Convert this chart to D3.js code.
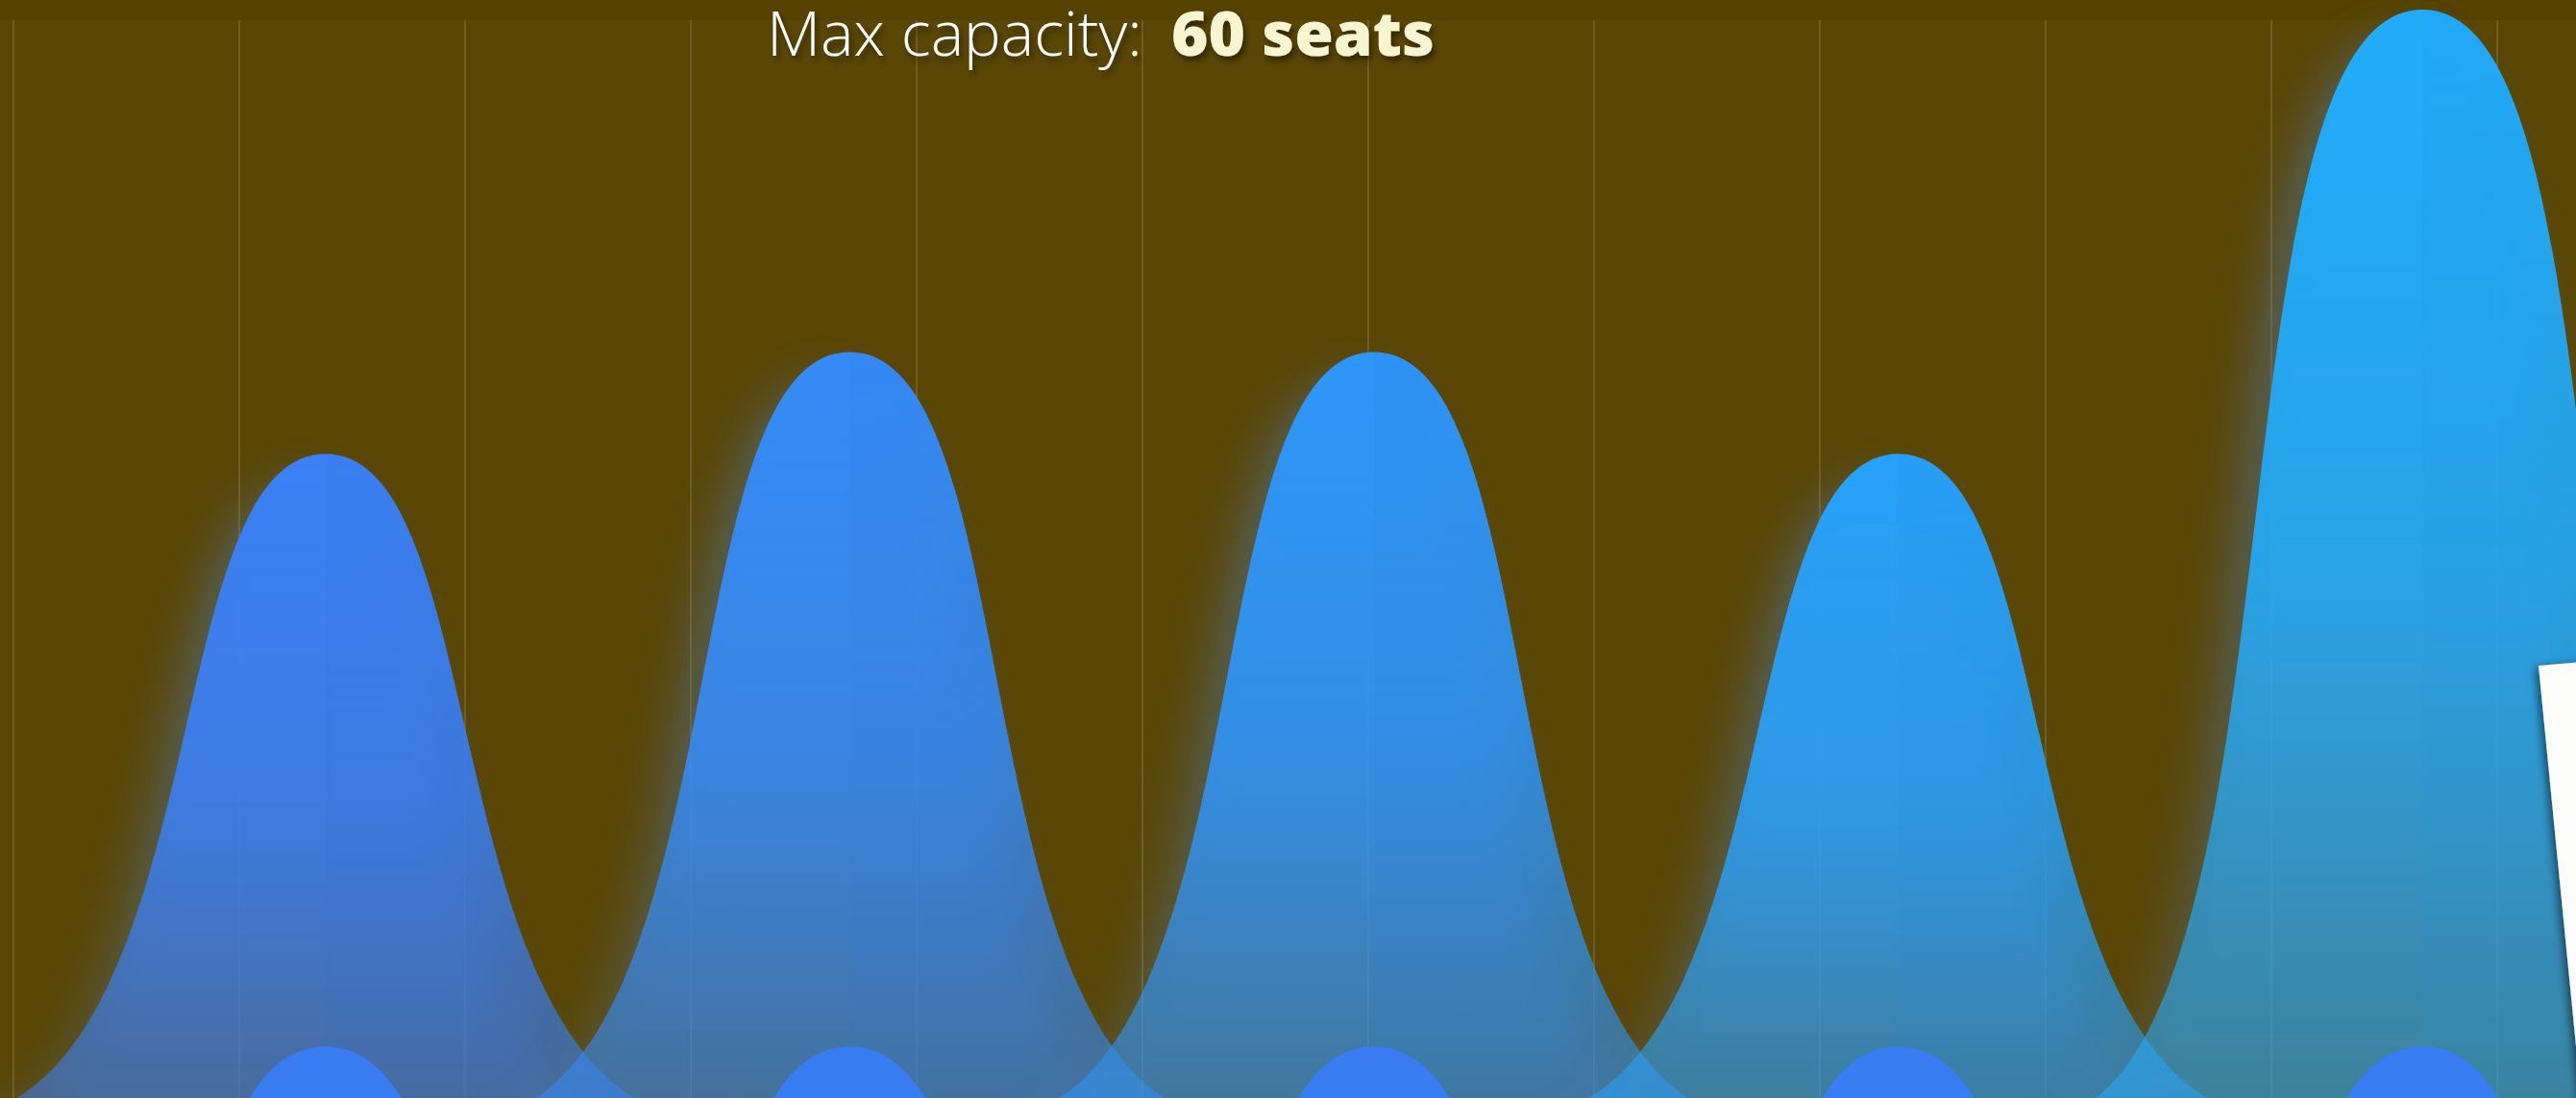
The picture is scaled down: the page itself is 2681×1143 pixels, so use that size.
<!DOCTYPE html>
<html>
<head>
<meta charset="utf-8">
<script src="https://cdn.jsdelivr.net/npm/d3@7"></script>
<style>
  html, body { margin: 0; padding: 0; background: #554200; overflow: hidden; }
  svg { display: block; }
</style>
</head>
<body>
<svg id="chart" width="2681" height="1143"></svg>
<script>
// data
var categories = ["Session 1", "Session 2", "Session 3", "Session 4", "Session 5"];
var seats = [36, 41.5, 41.5, 36, 60];
var lowerSeats = [36, 36, 36, 36, 36];
var maxCapacity = 60;
var gridSteps = [0, 11];

var svg = d3.select("svg"),
    width = +svg.attr("width"),
    height = +svg.attr("height");

var plotTop = 21,
    step = 545.6;

var x = d3.scaleBand()
    .domain(categories)
    .range([66, 66 + step * categories.length]);

var y = d3.scaleLinear()
    .domain([0, maxCapacity])
    .range([1166, 10]);

var yLower = d3.scaleLinear()
    .domain([0, maxCapacity])
    .range([1166 + 617, 10 + 617]);

var gx = d3.scaleLinear()
    .domain(gridSteps)
    .range([14, 2599]);

var color = d3.interpolateRgb("#3b80f6", "#22acfb");

var bw = x.bandwidth();

// bell-shaped column: rounded top, flared foot
function bell(cx, top, base, spread) {
    spread = spread || 1;
    var h = base - top,
        r = bw * 0.745,
        q = bw * 0.2,
        p = 0.295 * spread * Math.sqrt(h * bw);
    var path = d3.path();
    path.moveTo(cx - r, base);
    path.bezierCurveTo(cx - q, base, cx - p, top, cx, top);
    path.bezierCurveTo(cx + p, top, cx + q, base, cx + r, base);
    path.closePath();
    return path.toString();
}

var defs = svg.append("defs");

var halo = defs.append("filter").attr("id", "halo")
    .attr("x", "-40%").attr("y", "-20%").attr("width", "180%").attr("height", "150%");
halo.append("feGaussianBlur").attr("in", "SourceAlpha").attr("stdDeviation", 24).attr("result", "blur");
halo.append("feOffset").attr("in", "blur").attr("dx", -26).attr("dy", 30).attr("result", "off");
halo.append("feFlood").attr("flood-color", "#4a78b0").attr("flood-opacity", 0.5).attr("result", "col");
halo.append("feComposite").attr("in", "col").attr("in2", "off").attr("operator", "in").attr("result", "shadow");
var hm = halo.append("feMerge");
hm.append("feMergeNode").attr("in", "shadow");
hm.append("feMergeNode").attr("in", "SourceGraphic");

var textShadow = defs.append("filter").attr("id", "textShadow")
    .attr("x", "-10%").attr("y", "-30%").attr("width", "130%").attr("height", "180%");
textShadow.append("feDropShadow").attr("dx", 3).attr("dy", 5).attr("stdDeviation", 3)
    .attr("flood-color", "#000").attr("flood-opacity", 0.45);

var cardShadow = defs.append("filter").attr("id", "cardShadow")
    .attr("x", "-30%").attr("y", "-10%").attr("width", "160%").attr("height", "120%");
cardShadow.append("feDropShadow").attr("dx", -3).attr("dy", 2).attr("stdDeviation", 5)
    .attr("flood-color", "#000").attr("flood-opacity", 0.55);

seats.forEach(function(v, i) {
    var c = color(i / (seats.length - 1));
    var g = defs.append("linearGradient").attr("id", "grad-" + i)
        .attr("x1", 0).attr("y1", 0).attr("x2", 0).attr("y2", 1);
    g.append("stop").attr("offset", 0).attr("stop-color", c).attr("stop-opacity", 1);
    g.append("stop").attr("offset", 0.5).attr("stop-color", c).attr("stop-opacity", 0.88);
    g.append("stop").attr("offset", 1).attr("stop-color", c).attr("stop-opacity", 0.5);
    defs.append("clipPath").attr("id", "clip-" + i)
        .append("path").attr("d", bell(x(categories[i]) + bw / 2, y(v), y(0)));
});

// plot background
svg.append("rect")
    .attr("x", 0).attr("y", plotTop)
    .attr("width", width).attr("height", height - plotTop)
    .attr("fill", "#5a4605");

svg.append("g")
    .attr("class", "grid")
    .selectAll("line")
    .data(gx.ticks(gridSteps[1]))
    .join("line")
    .attr("x1", function(d) { return gx(d); })
    .attr("x2", function(d) { return gx(d); })
    .attr("y1", plotTop)
    .attr("y2", height)
    .attr("stroke", "#7a6530")
    .attr("stroke-opacity", 0.75)
    .attr("stroke-width", 2);

var bells = svg.append("g").attr("class", "bells");

bells.selectAll("g.col")
    .data(seats)
    .join("g")
    .attr("class", "col")
    .each(function(v, i) {
        var cx = x(categories[i]) + bw / 2;
        var c = color(i / (seats.length - 1));
        var g = d3.select(this);
        g.append("path")
            .attr("d", bell(cx, y(v), y(0)))
            .attr("fill", "url(#grad-" + i + ")")
            .attr("filter", "url(#halo)");
        // right half a touch deeper
        g.append("rect")
            .attr("clip-path", "url(#clip-" + i + ")")
            .attr("x", cx).attr("y", y(v))
            .attr("width", bw).attr("height", y(0) - y(v))
            .attr("fill", d3.rgb(c).darker(0.4))
            .attr("fill-opacity", 0.1);
    });

svg.append("g")
    .attr("class", "lower")
    .selectAll("path")
    .data(lowerSeats)
    .join("path")
    .attr("d", function(v, i) { return bell(x(categories[i]) + bw / 2, yLower(v), yLower(0), 1.08); })
    .attr("fill", "#3a7df3");

// card at the right edge
svg.append("path")
    .attr("d", "M2642,693L2780,681L2820,1180L2690,1180Z")
    .attr("fill", "#fdfdfb")
    .attr("filter", "url(#cardShadow)");

// capacity label
var label = svg.append("g").attr("filter", "url(#textShadow)");
label.append("text")
    .attr("x", 798).attr("y", 58)
    .attr("font-family", "'Open Sans', sans-serif")
    .attr("font-weight", 300)
    .attr("font-size", 65)
    .attr("fill", "#ffffff")
    .text("Max capacity:");
label.append("text")
    .attr("x", 1219).attr("y", 58)
    .attr("font-family", "'Open Sans', sans-serif")
    .attr("font-weight", 800)
    .attr("font-size", 63)
    .attr("textLength", 274)
    .attr("lengthAdjust", "spacingAndGlyphs")
    .attr("fill", "#f8f6d2")
    .text(maxCapacity + " seats");
</script>
</body>
</html>
